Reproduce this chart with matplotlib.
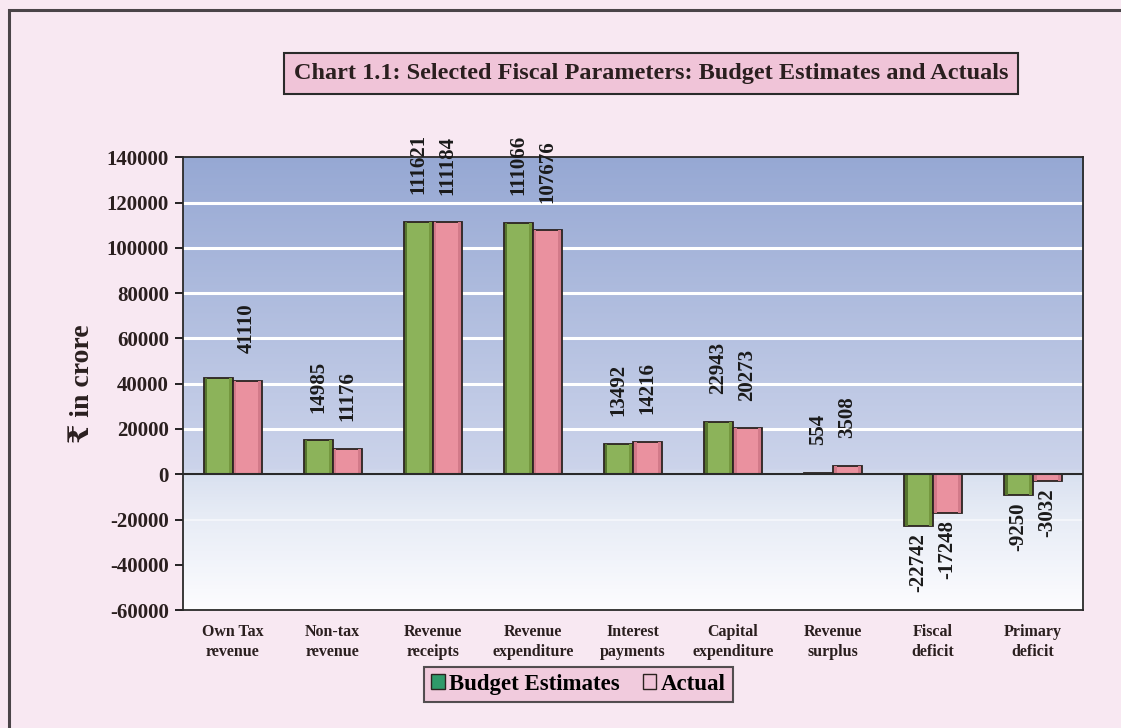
import numpy as np
import matplotlib.pyplot as plt
from matplotlib.patches import Patch, Rectangle
from matplotlib.colors import LinearSegmentedColormap

plt.rcParams['font.family'] = ['Liberation Serif', 'DejaVu Serif', 'DejaVu Sans']
plt.rcParams['font.weight'] = 'bold'

categories = ["Own Tax\nrevenue", "Non-tax\nrevenue", "Revenue\nreceipts",
              "Revenue\nexpenditure", "Interest\npayments", "Capital\nexpenditure",
              "Revenue\nsurplus", "Fiscal\ndeficit", "Primary\ndeficit"]
budget = [42700, 14985, 111621, 111066, 13492, 22943, 554, -22742, -9250]
actual = [41110, 11176, 111184, 107676, 14216, 20273, 3508, -17248, -3032]
budget_labelled = [False, True, True, True, True, True, True, True, True]

bg = '#f8e8f2'
green = '#8cb35a'
pink = '#ea919f'
edge = '#2b2320'

fig = plt.figure(figsize=(11.21, 7.28), dpi=100, facecolor=bg)
# outer frame (runs off the right and bottom edges)
fig.patches.append(Rectangle((0.008, -0.05), 1.2, 1.036, transform=fig.transFigure,
                             fill=False, edgecolor='#4a4448', linewidth=2.2))

ax = fig.add_axes([0.163, 0.162, 0.803, 0.622])
ymin, ymax = -60000, 140000
x = np.arange(len(categories))
w = 0.29
sw = 0.025

# vertical background gradient
stops = [(0.0, (0.99, 0.99, 1.0)), (0.22, (0.90, 0.92, 0.96)),
         (0.30, (0.85, 0.88, 0.94)), (0.31, (0.80, 0.83, 0.92)),
         (1.0, (0.59, 0.66, 0.83))]
cmap = LinearSegmentedColormap.from_list('bgfade', stops)
grad = np.linspace(0, 1, 400).reshape(-1, 1)
ax.imshow(grad, cmap=cmap, origin='lower', aspect='auto',
          extent=[-0.5, 8.5, ymin, ymax], zorder=0)

for g in range(-20000, ymax, 20000):
    if g != 0:
        ax.axhline(g, color='white', lw=2.2 if g > 0 else 1.2,
                   alpha=1.0 if g > 0 else 0.6, zorder=1)

ax.bar(x - w / 2, budget, w, color=green, edgecolor=edge, linewidth=1.3, zorder=3)
ax.bar(x + w / 2, actual, w, color=pink, edgecolor=edge, linewidth=1.3, zorder=3)
# darker shaded sides give the bars a bit of depth
ax.bar(x - w + 0.012, budget, sw, align='edge', color='#56752e', linewidth=0, zorder=4)
ax.bar(x - 0.012 - sw, budget, sw, align='edge', color='#74973f', linewidth=0, zorder=4)
ax.bar(x + 0.012, actual, sw, align='edge', color='#d27a89', linewidth=0, zorder=4)
ax.bar(x + w - 0.012 - sw, actual, sw, align='edge', color='#d27a89', linewidth=0, zorder=4)
ax.axhline(0, color='#2a2a2a', lw=1.5, zorder=5)

for i in range(len(categories)):
    pairs = [(x[i] - w / 2, budget[i], budget_labelled[i]), (x[i] + w / 2, actual[i], True)]
    for xp, v, show in pairs:
        if not show:
            continue
        off = 20 if v >= 0 else -5
        ax.annotate(f"{v}", (xp, v), xytext=(0, off), textcoords='offset points',
                    rotation=90, ha='center', va='bottom' if v >= 0 else 'top',
                    fontsize=15, fontweight='bold', color='#1a1a1a',
                    annotation_clip=False, zorder=6)

ax.set_xlim(-0.5, 8.5)
ax.set_ylim(ymin, ymax)
ax.set_yticks(range(ymin, ymax + 1, 20000))
ax.set_yticklabels([str(t) for t in range(ymin, ymax + 1, 20000)],
                   fontsize=15, fontweight='bold', color='#2a1f1f')
ax.set_xticks(x)
ax.set_xticklabels(categories, fontsize=11.5, fontweight='bold', color='#2a1f1f',
                   linespacing=1.3)
ax.tick_params(axis='x', length=0, pad=10)
ax.tick_params(axis='y', direction='out', length=6, width=1.2, pad=4)
for s in ax.spines.values():
    s.set_color('#2a2a2a')
    s.set_linewidth(1.3)
ax.set_ylabel("₹ in crore", fontsize=20, fontweight='bold', color='#2a1f1f', labelpad=8)

fig.text(0.581, 0.899, "Chart 1.1: Selected Fiscal Parameters: Budget Estimates and Actuals",
         ha='center', va='center', fontsize=17.5, fontweight='bold', color='#2a1f1f',
         bbox=dict(boxstyle='square,pad=0.4', facecolor='#f0c4d8',
                   edgecolor='#2a2a2a', linewidth=1.5))

handles = [Patch(facecolor='#2f9a6a', edgecolor=edge, label='Budget Estimates'),
           Patch(facecolor='#f0c4d8', edgecolor=edge, label='Actual')]
leg = fig.legend(handles=handles, loc='center', bbox_to_anchor=(0.516, 0.06), ncol=2,
                 frameon=True, prop={'weight': 'bold', 'size': 16.5},
                 handlelength=0.6, handleheight=0.6, handletextpad=0.2,
                 columnspacing=1.0, borderpad=0.3, fancybox=False)
leg.get_frame().set_facecolor('#f0c4d8')
leg.get_frame().set_edgecolor('#2a2a2a')
leg.get_frame().set_linewidth(1.5)

fig.savefig('out.png', dpi=100, facecolor=bg)
